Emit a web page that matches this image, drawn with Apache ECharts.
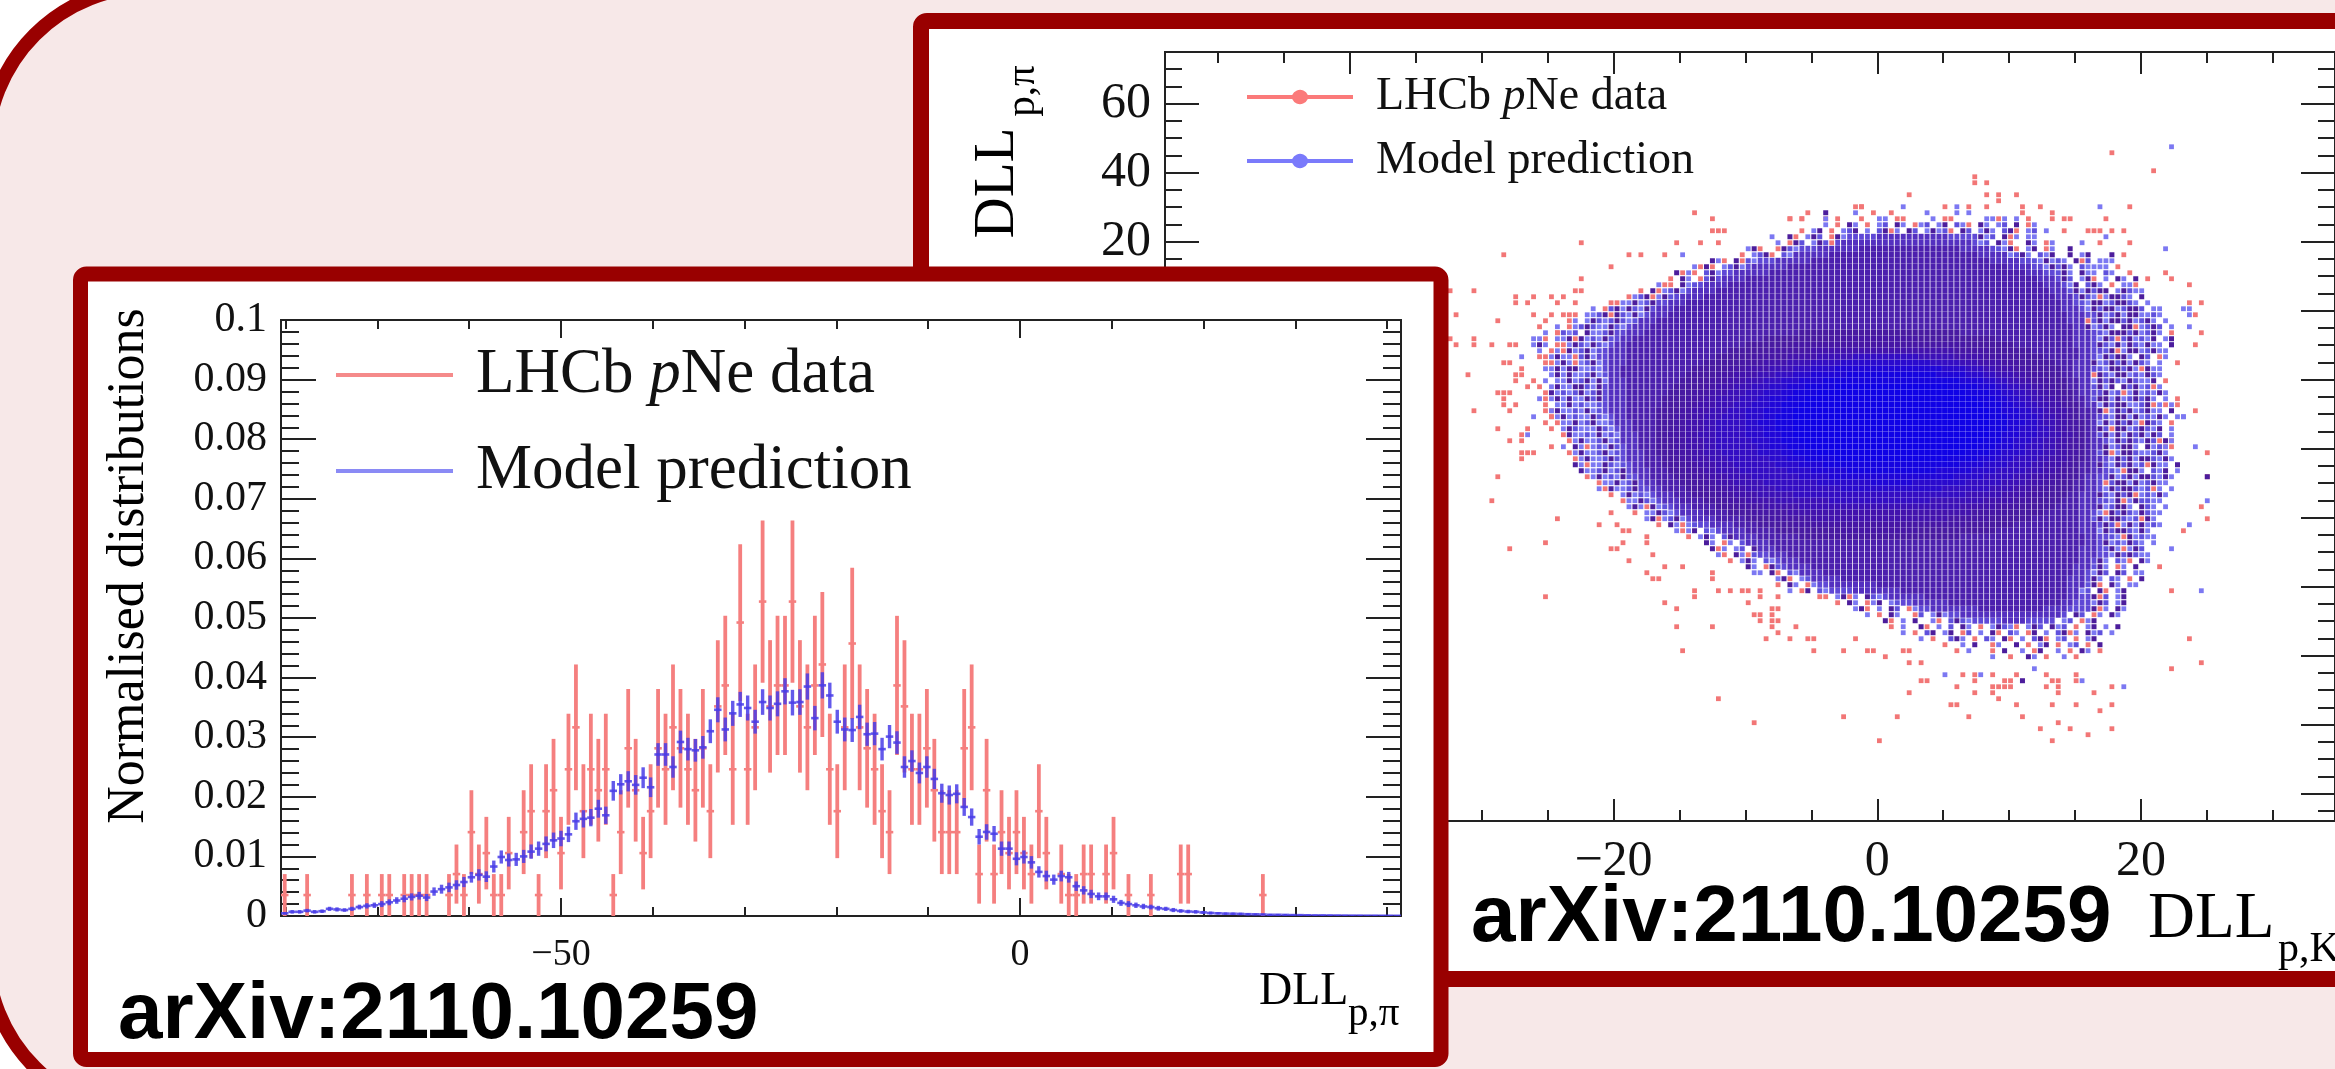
<!DOCTYPE html>
<html><head><meta charset="utf-8">
<style>html,body{margin:0;padding:0;background:#fff}#c{width:2335px;height:1069px}#c canvas{filter:blur(0.55px)}</style>
<script src="https://cdn.jsdelivr.net/npm/echarts@6/dist/echarts.min.js"></script>
</head><body><div id="c"></div>
<script>
// ---------- left panel: 150-bin DLL(p,pi) histogram ----------
const redCounts = [1,0,0,1,0,0,0,0,0,1, 0,1,0,1,1,0,1,1,1,1, 0,0,1,2,1,4,2,3,1,1,
  3,0,4,5,1,5,6,3,7,9, 5,7,6,7,1,4,8,6,3,5, 8,7,9,8,7,6,8,5,10,11,
  7,14,7,9,15,10,11,11,15,10, 9,11,12,7,5,9,13,9,8,7, 5,4,11,10,7,7,8,6,4,4,
  4,8,9,2,6,2,4,3,4,3, 2,5,3,0,2,1,1,2,2,0, 2,3,0,1,0,0,1,0,0,0,
  2,2,0,0,0,0,0,0,0,0, 0,1,0,0,0,0,0,0,0,0, 0,0,0,0,0,0,0,0,0,0];
const countErrors = [0,1,1.41,1.73,2,2.24,2.45,2.65,2.83,3,3.16,3.32,3.46,3.61,3.74,3.87];
const redUnit = 0.003517;
const blueValues = [.45,.7,.7,.9,.7,.8,1.2,1.1,1,1.2, 1.5,1.7,1.8,2,2.3,2.6,2.9,3.2,3.4,3.1,
  4.1,4.5,4.8,5.2,5.7,6.5,6.9,6.6,8.3,9.9, 9.4,9.5,10,10.8,11.3,12.1,12.7,13,13.7,15.9,
  16.3,16.5,18,16.9,21,22.1,22.6,22,23.2,21.6, 27.1,27.1,25,29.2,28,27.8,28.3,31,34.6,31.3,
  34,35.5,34.9,32.6,35.9,34.9,35.6,37.7,35.8,35.9, 38.5,33.2,38.7,37,32.6,31.3,31.2,33.4,30.5,30.6,
  28,30.1,29.1,25,26,24,25,23,20.6,20.3, 20.5,18.3,16.6,13.3,14.1,13.8,11.3,11.3,9.6,9.9,
  9,7.4,6.7,6.1,6.7,6.5,5,4.3,3.7,3.3, 3.3,2.8,2.2,2,1.8,1.6,1.5,1.3,1.2,1,
  .85,.75,.7,.6,.5,.45,.4,.38,.35,.3, .28,.25,.2,.2,.18,.15,.14,.12,.1,.1,
  .09,.08,.07,.06,.06,.05,.05,.04,.04,.03];
const blueErrors = [.2,.3,.3,.3,.3,.3,.35,.35,.3,.35, .4,.45,.45,.5,.5,.55,.6,.6,.65,.6,
  .7,.75,.8,.8,.85,.9,.95,.9,1,1.1, 1.1,1.1,1.1,1.2,1.2,1.25,1.3,1.3,1.3,1.45,
  1.45,1.45,1.5,1.45,1.65,1.7,1.7,1.65,1.75,1.65, 1.9,1.9,1.8,1.9,1.9,1.9,1.9,2,2.1,2,
  2.1,2.1,2.1,2,2.15,2.1,2.1,2.2,2.15,2.15, 2.2,2.05,2.2,2.15,2,2,2,2.05,1.95,1.95,
  1.9,1.95,1.9,1.8,1.8,1.75,1.8,1.7,1.6,1.6, 1.6,1.5,1.45,1.3,1.3,1.3,1.2,1.2,1.1,1.1,
  1.05,.95,.9,.85,.9,.9,.8,.7,.7,.65, .65,.6,.5,.5,.45,.45,.4,.4,.35,.35,
  .3,.3,.3,.25,.25,.2,.2,.2,.2,.2, .15,.15,.15,.15,.15,.1,.1,.1,.1,.1,
  .1,.1,.1,.1,.1,.1,.1,.1,.1,.1];
const histMin = -80.5, histMax = 41.5;
const histMajorTicks = [-50, 0];
const histMinorTicks = [-80,-70,-60,-40,-30,-20,-10,10,20,30,40];
const histYLabels = {0:'0',0.01:'0.01',0.02:'0.02',0.03:'0.03',0.04:'0.04',0.05:'0.05',0.06:'0.06',0.07:'0.07',0.08:'0.08',0.09:'0.09',0.1:'0.1'};

// ---------- right panel: 2D DLL(p,K) vs DLL(p,pi) bins ----------
const bin2dX0 = -31.03, bin2dXStep = 0.452, bin2dY0 = 33.62, bin2dYStep = -1.739;
const mapMajorX = [-40,-20,0,20];
const mapMinorX = [-50,-45,-35,-30,-25,-15,-10,-5,5,10,15,25,30];
const mapXLabels = [-20,0,20];
const mapMajorY = [60,40,20,0,-20,-40,-60,-80,-100,-120,-140];
const mapMinorY = [70,65,55,50,45,35,30,25,15,10,5,-5,-10,-15,-25,-30,-35,-45,-50,-55,-65,-70,-75,-85,-90,-95,-105,-110,-115,-125,-130,-135,-145];
const mapYLabels = [60,40,20];
// rows of the 2D histogram, from bin row 2 downward
const sparseRowsTop = [
 [65,'rr......b......r.b.r........r..r'],
 [60,'v....b..r..r.....b....b.b........r....r'],
 [54,'r.r...b.r...r..bb.rr....b.rr.....bbrb.b.r...r.r'],
 [60,'b.r.vb.r.bl.vb.rbl.bv.lbr.vb.bl.v.rb'],
 [56,'r.bv.r.blv.b.lvrb.vl.bvblr.vl.bvb.lvr.bl.b']];
// [first col, left edge cells, blue-violet from, deep blue from, deep blue to, blue-violet to, last col, right edge cells]
const rowsMiddle = [
 [54,'vr.bvl.rvb',0,0,0,0,95,'vbl.vrb.bb'],[52,'b.rvl.bvlr',0,0,0,0,98,'bl.vbr..vb.rb'],[47,'bvr..rvlb',0,0,0,0,101,'lbvr.bv.rb..v'],
 [46,'r.blvr.lb',0,0,0,0,104,'blvb.lbv..v.bv'],[41,'vbr.vrlb',0,0,0,0,108,'lbvblb.vrl.bbb'],[38,'brvr.blvb',0,0,0,0,109,'bvlvb.lbbbb.r'],
 [35,'vrbr.lvb',0,0,0,0,111,'lvb.vbb.lb..r'],[34,'r.vb.rlv',0,0,0,0,112,'vl.bvr.b.vb.v'],[32,'brr.vbl',0,0,0,0,112,'bv.lvb.r.bbr'],
 [29,'r.vrblvb',0,0,0,0,113,'lvbvlvv.bvlbb'],[27,'rblvrbvl',0,0,0,0,113,'vlbrbvvlb.v'],[24,'rrbbvblv',0,0,0,0,114,'lbvvblvvlb.b'],
 [21,'b.rlvbvlbv',0,0,0,0,116,'bvlvvblvvl.bb'],[18,'r.bblvrvlbvb',0,0,0,0,117,'vblvbvvbblb.'],[17,'rb.bvlblvlbl',0,0,0,0,117,'rlvbvvlvblvb.b'],
 [15,'b.rblvlbbvlb',0,0,0,0,118,'vblvb.vvrblvl.b'],[13,'b.rlbl.vbblv',0,0,0,0,118,'lbvvvlvblvb.r'],[11,'bbr.bbvrvblbvl',0,0,0,0,118,'bvlrlvblbv.bv'],
 [11,'bvb.rrbvlbvlb',0,0,0,0,118,'vlbvbvlbvbb.b'],[12,'b.rbrvblvbl',59,0,0,79,118,'lvrbvvblvbb.'],[12,'rrbvbbrlvb',53,0,0,85,117,'bvlvvb.vl.rb'],
 [13,'rrbvbrblvb',50,0,0,88,116,'vblvlvbvlb.b'],[13,'bbvbvvbblb',47,63,79,91,116,'lbvvlvbrvbb'],[14,'bvbvbblvbl',45,59,83,93,116,'rvlbvvblbvlb'],
 [13,'b.bbvblvbvb',43,56,86,95,117,'bvlvlbvlbbv.r'],[12,'r.bvbbvvlbv',42,54,88,96,117,'lvbv.vlvblrb.'],[12,'.rvblblvblv',41,53,89,97,117,'vblrbvblbvb'],
 [12,'brbvbvbbvlv',40,52,90,98,117,'lvvbvblvlvb.b'],[13,'r.bbvblbbl',39,51,91,99,118,'bvlvvbblvrb.b'],[13,'.bvbblbvbl',38,50,92,100,118,'vrbvlvblvbb.v'],
 [14,'rbvblbbvlb',37,50,92,101,118,'lbvvbvblbvb.'],[15,'rbbvblvbbl',37,50,92,101,118,'bvbvlvbrvlb.r'],[15,'.bvlbbbvlb',37,50,92,101,118,'vlrvvblvlbv.b'],
 [16,'rvbblbvblb',37,50,92,101,118,'lvbvbvlvbvl.b'],[16,'.rbvbblvbl',37,51,91,101,118,'bvlvlbvlrvb'],[16,'b.vbrblbvl',37,52,90,101,118,'vblvvb.vblbr'],
 [17,'rbvbblvbl',37,53,89,101,118,'lvrbvvlbblvb.'],[17,'.rbvbblvl',38,54,88,100,118,'bvlvbvvlbvb'],[18,'vbrbbvlbl',39,56,86,99,119,'vlbvlvblrvbb.v'],
 [18,'.vbblvblv',40,59,83,98,119,'lbrvvb.lbv.b'],[20,'rbvblbvl',41,63,79,97,118,'vblvbvvlbvb'],[21,'.rbbvblv',42,0,0,96,118,'rlvvbvblvbb.'],
 [22,'brvbblv',43,0,0,95,118,'bvlvvlblrb.b'],[24,'r.bvblb',45,0,0,93,117,'vlbvlvrblbvb'],[25,'.rbbvlb',47,0,0,91,117,'lbvrbvllbb.'],
 [27,'bvbrvbl',50,0,0,88,117,'vblvvb.vlb.b'],[28,'r.bbvlb',53,0,0,85,116,'brvlvlbvlbb'],[30,'bvrblvb',59,0,0,79,116,'lvbvvlblrvb.'],
 [32,'r.vbrbl',0,0,0,0,116,'vlrbvbvblb'],[35,'brbv.lb',0,0,0,0,115,'bvlvvlbvb.'],[37,'r.bvb.lv',0,0,0,0,115,'lbrvblbb'],
 [39,'.vb.rb.l',0,0,0,0,115,'vblbvlb.b'],[41,'vrb.bl.v',0,0,0,0,114,'lvbrbvl.'],[42,'br.vbrl',0,0,0,0,114,'bvlvlbb'],
 [44,'r.bvb.lb',0,0,0,0,114,'vb.lbr.vb'],[46,'.vb.rvl',0,0,0,0,113,'lvb.rb.v.'],[48,'bb.vr.lb',0,0,0,0,113,'bvl.vl.bb'],
 [51,'.bvr.bl',0,0,0,0,113,'vb.lb.r.v'],[52,'r.vb.rb',0,0,0,0,112,'lvr.vb.bb'],[54,'b.rv.lb',0,0,0,0,111,'bl.vr.bv.'],
 [59,'rr.bvrb.vlb',0,0,0,0,110,'vrl.bv'],[62,'r.vb.rbv.bl',0,0,0,0,110,'bvl.bv'],[64,'.bvr.b.vl.rb',0,0,0,0,110,'vrb.vb'],
 [67,'b.r.vb..rl.bvb',0,0,0,0,109,'.vl.rb.vb'],[69,'.vr.b.v..br.lvlb',0,0,0,0,105,'.bl.rbv']];
const sparseRowsBottom = [
 [71,'r.b..vr.b.l.vb.r.bvlbr.bvl.vbl.r.bv.b.v'],
 [72,'.b.r.lv.bv.rl.b.vr.lb.rv.b.lvrb.vbl.b'],[76,'b.r..lvb.r.lb.vr.b.lvr.bl.r.bv'],[79,'.r..b.v..rb..v.r.bv.r.bl.r.v'],
 [82,'r.b...r.v..b.rv..b.r.vb.r'],[87,'.b..r..vb.r..b.r']];
// isolated bins (col,row)
const redOutlierBins = [74,0,85,-3,85,-2,87,-2,87,0,89,0,89,1,87,2,92,0,115,-4,108,-7,38,3,41,4,41,6,42,6,43,6,19,8,6,10,54,4,56,4,57,3,60,4,66,2,39,8,35,8,42,8,19,14,24,12,27,10,29,10,33,10,
 -3,16,1,16,8,17,11,17,8,18,10,18,14,17,16,17,15,18,18,18,18,16,19,16,-2,20,5,21,11,20,12,22,13,21,14,20,16,20,17,20,-3,24,1,24,-2,25,1,25,4,25,7,25,8,25,15,23,6,28,7,28,9,29,9,30,0,30,8,31,11,31,10,32,6,33,7,33,5,33,6,34,6,35,8,35,1,36,7,36,5,39,10,39,9,40,7,41,9,41,9,43,10,43,11,43,13,36,14,36,14,37,13,38,14,39,14,42,7,59,13,67,4,51,15,54,13,58,5,47,9,44,8,30,
 22,55,24,53,24,59,25,59,26,58,27,61,25,55,26,56,27,56,30,57,30,58,31,60,33,62,30,63,32,64,31,64,36,62,41,63,41,64,42,66,38,66,38,67,44,66,46,66,47,66,49,66,49,67,52,67,33,68,35,69,47,68,48,70,49,70,49,71,51,69,52,69,51,70,51,71,52,71,51,72,35,72,41,72,52,73,50,74,54,74,55,72,57,74,58,74,58,76,36,76,63,76,65,74,67,76,68,76,70,77,73,76,74,76,74,78,76,78,
 42,84,48,88,63,87,72,87,69,91,76,81,77,81,74,83,82,82,81,85,82,85,84,87,85,83,85,81,85,80,83,80,88,80,88,82,89,82,90,82,91,82,90,81,91,81,92,80,88,83,89,84,92,85,93,87,96,89,97,82,99,82,99,83,98,85,99,88,98,91,101,89,102,85,102,80,102,81,104,90,105,83,106,86,108,89,108,85,108,82,97,80,98,81,99,81,
 121,15,123,18,121,18,122,20,123,23,122,25,119,28,114,14,117,13,118,14,111,2,107,4,108,6,110,6,111,8,110,10,106,8,105,6,106,6,104,6,101,4,100,6,119,35,119,34,122,36,117,35,118,41,124,43,117,42,124,47,123,52,124,54,120,56,116,62,118,66,121,74,123,78,118,79];
const blueOutlierBins = [118,-8,36,10,51,7,9,27,10,40,11,37,80,80,86,80,103,81,95,79,117,9,106,2,107,7,103,8,121,19,120,19,121,20,121,22,119,37,120,37,122,42,124,51,120,37,121,55,118,59,123,66,110,82];
const violetOutlierBins = [93,81,108,10,118,25,124,47];

// ---------- expand bin tables into points ----------
const cls = {r:[],b:[],l:[],v:[]};
const pt = (c,r)=>[bin2dX0+c*bin2dXStep, bin2dY0+r*bin2dYStep];
function put(row,start,str){ for(let i=0;i<str.length;i++){ const k=str[i]; if(k!=='.') cls[k].push(pt(start+i,row)); } }
const body = [];      // [col,row,class] with class 0 body, 1 blue-violet, 2 deep blue
const classAt = new Map(), key=(c,r)=>c*1000+r;
let rowNo = 2;
sparseRowsTop.forEach(o=>{ put(rowNo,o[0],o[1]); rowNo++; });
rowsMiddle.forEach(o=>{
  const [L,left,mL,bL,bR,mR,R,right]=o;
  put(rowNo,L,left);
  const a=L+left.length, e=R-right.length+1;
  put(rowNo,e,right);
  for(let c=a;c<e;c++){
    let k=0;
    if(mL&&c>=mL&&c<=mR) k=1;
    if(bL&&c>=bL&&c<=bR) k=2;
    body.push([c,rowNo,k]); classAt.set(key(c,rowNo),k);
  }
  rowNo++;
});
sparseRowsBottom.forEach(o=>{ put(rowNo,o[0],o[1]); rowNo++; });
for(let i=0;i<redOutlierBins.length;i+=2) cls.r.push(pt(redOutlierBins[i],redOutlierBins[i+1]));
for(let i=0;i<blueOutlierBins.length;i+=2) cls.b.push(pt(blueOutlierBins[i],blueOutlierBins[i+1]));
for(let i=0;i<violetOutlierBins.length;i+=2) cls.v.push(pt(violetOutlierBins[i],violetOutlierBins[i+1]));

// shade body cells by the locally averaged zone of their neighbours (soft contours)
const bodyShades = [
  {color:'#5f48d6',w:4.8},{color:'#5430c0',w:5},{color:'#4c20ae',w:5.2},{color:'#481aa2',w:5.3},
  {color:'#4616a6',w:5.4},{color:'#4212ae',w:5.5},{color:'#3c10b8',w:5.6},{color:'#340dc4',w:5.7},
  {color:'#2a0ace',w:5.8},{color:'#2006d8',w:5.8},{color:'#1604e0',w:5.8},{color:'#1002e6',w:5.8}];
const bodyBuckets = bodyShades.map(()=>[]);
body.forEach(([c,r])=>{
  let sum=0,n=0;
  for(let dc=-5;dc<=5;dc++) for(let dr=-3;dr<=3;dr++){
    const v=classAt.get(key(c+dc,r+dr));
    sum+= v===undefined ? -1 : v; n++;
  }
  const lvl=sum/n;                        // -1 .. 2
  const idx=Math.max(0,Math.min(bodyShades.length-1,Math.round((lvl+0.55)/2.55*(bodyShades.length-1))));
  bodyBuckets[idx].push(pt(c,r));
});

const binW = (histMax-histMin)/150;
const center = i => histMin+(i+0.5)*binW;
const redData = [], blueData = [];
redCounts.forEach((n,i)=>{ if(n>0) redData.push([center(i), n*redUnit, countErrors[n]*redUnit]); });
blueValues.forEach((v,i)=>{ blueData.push([center(i), v/1000, blueErrors[i]/1000]); });

function errorBars(color,vw,hw){
  return function(params,api){
    const x=api.value(0),y=api.value(1),e=api.value(2);
    const t=api.coord([x,y+e]),b=api.coord([x,y-e]),m=api.coord([x,y]);
    const half=api.size([binW,0])[0]/2;
    const rect=params.coordSys;
    return {type:'group',children:[
      {type:'line',shape:{x1:t[0],y1:t[1],x2:t[0],y2:Math.min(b[1],rect.y+rect.height)},style:{stroke:color,lineWidth:vw,fill:null}},
      {type:'line',shape:{x1:m[0]-half,y1:m[1],x2:m[0]+half,y2:m[1]},style:{stroke:color,lineWidth:hw,fill:null}}
    ]};
  };
}

const SERIF='"Liberation Serif"', SANS='"Liberation Sans"', INK='#111', DARKRED='#990000';
const axisLineStyle={lineStyle:{color:'#222',width:2}};
const tickStyle={color:'#222',width:2};
const minusLabel=v=>String(v).replace('-','\u2212');

function histX(pos,major,withLabels){
  return {type:'value',gridIndex:0,min:histMin,max:histMax,position:pos,z:6,
    axisLine:Object.assign({show:true,onZero:false},axisLineStyle),splitLine:{show:false},
    axisTick:{show:true,inside:true,length:major?18:9,lineStyle:tickStyle,customValues:major?histMajorTicks:histMinorTicks},
    axisLabel:withLabels?{show:true,customValues:histMajorTicks,formatter:minusLabel,margin:20,color:INK,fontFamily:SERIF,fontSize:38}:{show:false}};
}
function histY(pos,withLabels){
  return {type:'value',gridIndex:0,min:0,max:0.1,interval:0.01,position:pos,z:6,
    axisLine:Object.assign({show:true,onZero:false},axisLineStyle),splitLine:{show:false},
    axisTick:{show:true,inside:true,length:35,lineStyle:tickStyle},
    minorTick:{show:true,splitNumber:5,length:18,lineStyle:tickStyle},minorSplitLine:{show:false},
    axisLabel:withLabels?{show:true,margin:14,color:INK,fontFamily:SERIF,fontSize:42,
      formatter:v=>histYLabels[+v.toFixed(2)]}:{show:false}};
}
function mapX(pos,major,withLabels){
  return {type:'value',gridIndex:1,min:-54,max:34.7,position:pos,z:1,
    axisLine:Object.assign({show:true,onZero:false},axisLineStyle),splitLine:{show:false},
    axisTick:{show:true,inside:true,length:major?22:11,lineStyle:tickStyle,customValues:major?mapMajorX:mapMinorX},
    axisLabel:withLabels?{show:true,customValues:mapXLabels,formatter:minusLabel,margin:16,color:INK,fontFamily:SERIF,fontSize:50}:{show:false}};
}
function mapY(pos,major,withLabels){
  return {type:'value',gridIndex:1,min:-147.9,max:75,position:pos,z:1,
    axisLine:Object.assign({show:true,onZero:false},axisLineStyle),splitLine:{show:false},
    axisTick:{show:true,inside:true,length:major?34:17,lineStyle:tickStyle,customValues:major?mapMajorY:mapMinorY},
    axisLabel:withLabels?{show:true,customValues:mapYLabels,margin:14,color:INK,fontFamily:SERIF,fontSize:50}:{show:false}};
}
function cells(name,data,color,w,h){
  return {type:'scatter',name,xAxisIndex:4,yAxisIndex:4,data,symbol:'rect',symbolSize:[w,h],
    itemStyle:{color,opacity:1},z:2,clip:true,silent:true,animation:false,emphasis:{disabled:true},progressive:0};
}
function txt(text,x,y,size,font,extra){
  return Object.assign({type:'text',x,y,z:8,style:{text,fill:extra&&extra.fill||'#000',font:(extra&&extra.weight||'normal')+' '+size+'px '+font,
    textAlign:extra&&extra.align||'left',textVerticalAlign:'middle',verticalAlign:'middle'}},extra&&extra.rot?{rotation:extra.rot}:{});
}
const ROT=Math.PI/2;
const legRich=(size)=>({g:{width:18,fontSize:size,fontFamily:SERIF},a:{fontSize:size,fontFamily:SERIF,color:INK},i:{fontSize:size,fontFamily:SERIF,color:INK,fontStyle:'italic'}});
const legFmt=n=>n==='LHCb pNe data'?'{g|}{a|LHCb }{i|p}{a|Ne data}':'{g|}{a|Model prediction}';
const dotLine='path://M0,6.5 L45.2,6.5 A8.5,8.5 0 0 1 60.8,6.5 L106,6.5 L106,10.5 L60.8,10.5 A8.5,8.5 0 0 1 45.2,10.5 L0,10.5 Z';

const chart=echarts.init(document.getElementById('c'),null,{renderer:'canvas',width:2335,height:1069});
chart.setOption({
  animation:false,backgroundColor:'#fff',
  grid:[
    {left:281,top:320,width:1120,height:596,containLabel:false},
    {left:1165,top:52,width:1178,height:769,containLabel:false}
  ],
  xAxis:[histX('bottom',true,true),histX('bottom',false,false),histX('top',true,false),histX('top',false,false),
         mapX('bottom',true,true),mapX('bottom',false,false),mapX('top',true,false),mapX('top',false,false)],
  yAxis:[histY('left',true),histY('right',false),
         {type:'value',gridIndex:0,min:0,max:0.1,show:false},{type:'value',gridIndex:0,min:0,max:0.1,show:false},
         mapY('left',true,true),mapY('left',false,false),mapY('right',true,false),mapY('right',false,false)],
  legend:[
    {left:336,top:343,padding:0,orient:'vertical',itemWidth:117,itemHeight:4,itemGap:32,selectedMode:false,z:8,
     data:[{name:'LHCb pNe data',icon:'rect',itemStyle:{color:'#f58a8a'}},{name:'Model prediction',icon:'rect',itemStyle:{color:'#8a8af5'}}],
     formatter:legFmt,textStyle:{rich:legRich(63),lineHeight:64}},
    {left:1247,top:73,padding:0,orient:'vertical',itemWidth:106,itemHeight:17,itemGap:16,selectedMode:false,z:2,
     data:[{name:'LHCb pNe data',icon:dotLine,itemStyle:{color:'#fb7a7a'}},{name:'Model prediction',icon:dotLine,itemStyle:{color:'#7a7afb'}}],
     formatter:legFmt,textStyle:{rich:legRich(46),lineHeight:48}}
  ],
  series:[
    cells('LHCb pNe data',cls.r,'#f27676',4.8,4.8),
    cells('Model prediction',cls.b,'#7c78f2',4.8,4.8),
    cells('Overlap light',cls.l,'#5f50dc',5,5),
    cells('Overlap dark',cls.v,'#4c1d9c',5,5)
  ].concat(bodyShades.map((s,i)=>cells('Body '+i,bodyBuckets[i],s.color,s.w,5.9))).concat([
    {type:'custom',name:'LHCb pNe data',xAxisIndex:0,yAxisIndex:0,z:7,clip:true,animation:false,silent:true,
     itemStyle:{color:'#f58080'},renderItem:errorBars('#f57f7f',3.8,2.6),data:redData,encode:{x:0,y:1}},
    {type:'custom',name:'Model prediction',xAxisIndex:0,yAxisIndex:0,z:7,clip:true,animation:false,silent:true,
     itemStyle:{color:'#6a62ee'},renderItem:errorBars('rgba(72,60,232,0.85)',3.4,2.6),data:blueData,encode:{x:0,y:1}}
  ]),
  graphic:{elements:[
    {type:'rect',z:-1,shape:{x:-13,y:-13,width:2500,height:1128,r:163},style:{fill:'#f7e8e8',stroke:DARKRED,lineWidth:14}},
    {type:'rect',z:0,shape:{x:921,y:21,width:1600,height:958,r:6},style:{fill:'#fff',stroke:DARKRED,lineWidth:16}},
    {type:'rect',z:5,shape:{x:80.5,y:274,width:1360.5,height:785.5,r:6},style:{fill:'#fff',stroke:DARKRED,lineWidth:15}},
    txt('Normalised distributions',129,566,52,SERIF,{align:'center',rot:ROT}),
    txt('arXiv:2110.10259',118,1016,80,SANS,{weight:'bold'}),
    txt('DLL',1259,992,46,SERIF),
    txt('p,\u03c0',1348,1014,41,SERIF),
    Object.assign(txt('DLL',998,183,57,SERIF,{align:'center',rot:ROT}),{z:1}),
    Object.assign(txt('p,\u03c0',1023,91,41,SERIF,{align:'center',rot:ROT}),{z:1}),
    txt('arXiv:2110.10259',1471,919,80,SANS,{weight:'bold'}),
    txt('DLL',2148,920,65,SERIF),
    txt('p,K',2278,950,42,SERIF)
  ]}
});
</script></body></html>
